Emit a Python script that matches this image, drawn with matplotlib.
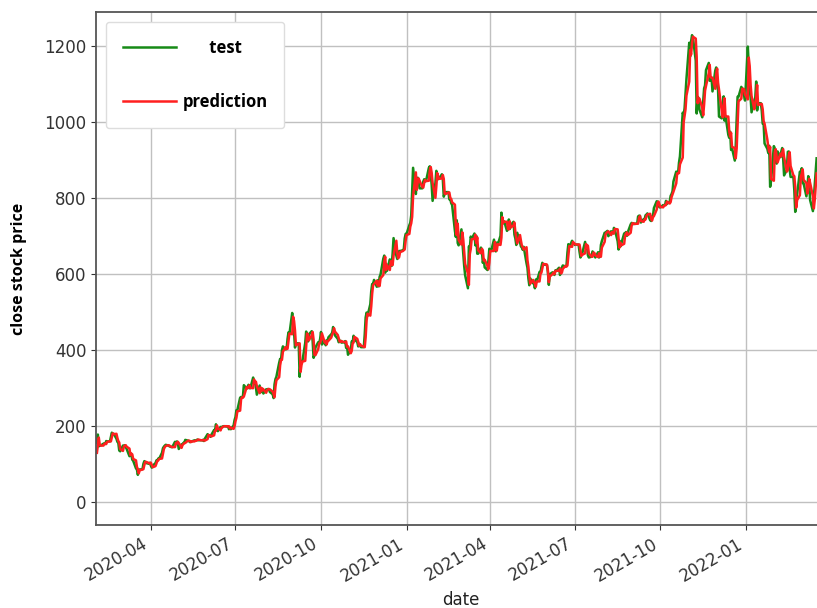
import numpy as np
import pandas as pd
import matplotlib
matplotlib.use('Agg')
import matplotlib.pyplot as plt
import matplotlib.dates as mdates

# daily closes, one row per trading week (Mon..Fri), holidays carry previous close
test_weeks = [
    [156, 178, 147, 149, 149], [154, 155, 153, 161, 160], [160, 172, 183, 179, 180],
    [167, 159, 156, 136, 134], [149, 149, 150, 145, 140], [121, 129, 126, 112, 109],
    [89, 86, 72, 86, 86], [87, 101, 108, 106, 103], [101, 104, 96, 91, 96],
    [103, 110, 110, 115, 115], [130, 142, 146, 149, 151], [149, 147, 146, 145, 145],
    [159, 153, 160, 156, 140], [152, 153, 156, 156, 164], [162, 161, 158, 160, 160],
    [163, 162, 163, 165, 163], [163, 163, 164, 161, 167], [179, 176, 176, 172, 177],
    [190, 188, 205, 194, 187], [198, 197, 199, 200, 200], [199, 200, 192, 197, 192],
    [202, 216, 224, 242, 242], [275, 277, 275, 278, 308], [299, 303, 309, 300, 300],
    [328, 313, 318, 302, 283], [307, 289, 300, 297, 286], [297, 297, 298, 297, 290],
    [284, 274, 310, 324, 330], [367, 377, 375, 400, 410], [402, 404, 430, 447, 442],
    [498, 475, 447, 407, 418], [418, 330, 366, 371, 372], [419, 449, 441, 423, 442],
    [450, 424, 380, 387, 407], [421, 419, 429, 448, 415], [425, 413, 425, 425, 434],
    [442, 446, 461, 448, 439], [430, 421, 422, 425, 420], [421, 424, 406, 410, 388],
    [400, 423, 420, 438, 429], [421, 410, 417, 411, 408], [408, 441, 486, 499, 490],
    [521, 555, 574, 574, 585], [567, 584, 568, 593, 599], [641, 649, 604, 627, 609],
    [639, 633, 622, 655, 695], [649, 640, 646, 661, 661], [663, 665, 694, 706, 706],
    [729, 735, 755, 816, 880], [811, 849, 854, 845, 826], [826, 844, 850, 844, 846],
    [880, 884, 865, 835, 793], [839, 872, 855, 850, 852], [863, 849, 804, 812, 816],
    [816, 797, 798, 787, 782], [714, 698, 742, 682, 676], [718, 686, 653, 621, 597],
    [563, 673, 668, 699, 693], [707, 676, 701, 654, 654], [670, 662, 630, 640, 618],
    [611, 635, 667, 661, 661], [691, 670, 660, 683, 677], [701, 762, 732, 738, 739],
    [714, 718, 744, 719, 729], [738, 704, 694, 677, 709], [684, 673, 670, 664, 672],
    [629, 617, 589, 571, 589], [576, 577, 563, 586, 580], [606, 604, 619, 630, 625],
    [625, 624, 605, 572, 600], [605, 603, 598, 610, 609], [617, 598, 605, 617, 623],
    [620, 623, 657, 679, 671], [688, 681, 680, 677, 678], [678, 659, 644, 652, 656],
    [685, 668, 677, 650, 644], [646, 660, 655, 649, 644], [658, 644, 646, 677, 687],
    [709, 709, 712, 714, 700], [713, 709, 707, 722, 717], [687, 665, 688, 673, 681],
    [707, 708, 711, 701, 711], [731, 735, 734, 732, 733], [733, 752, 754, 754, 736],
    [745, 744, 755, 757, 760], [742, 740, 752, 753, 774], [792, 791, 781, 776, 776],
    [782, 781, 782, 793, 785], [791, 806, 811, 818, 844], [870, 865, 866, 894, 910],
    [1025, 1018, 1037, 1077, 1114], [1209, 1173, 1213, 1229, 1222], [1162, 1023, 1067, 1064, 1033],
    [1013, 1055, 1089, 1097, 1137], [1156, 1109, 1117, 1117, 1081], [1136, 1144, 1095, 1084, 1015],
    [1010, 1051, 1068, 1004, 1017], [967, 959, 975, 927, 932], [899, 938, 1008, 1067, 1067],
    [1093, 1088, 1087, 1070, 1057], [1199, 1149, 1088, 1064, 1026], [1058, 1064, 1107, 1031, 1050],
    [1050, 1030, 996, 996, 944], [930, 919, 938, 830, 846], [937, 931, 905, 891, 923],
    [908, 923, 932, 904, 860], [875, 922, 923, 876, 856], [856, 821, 764, 800, 810],
    [870, 865, 879, 840, 839], [805, 825, 858, 838, 795], [766, 802, 840, 871, 905],
]

# model output for the same days
pred_weeks = [
    [130, 150, 170, 152, 149], [149, 153, 155, 153, 159], [160, 160, 170, 181, 179],
    [180, 169, 161, 157, 140], [135, 146, 149, 150, 146], [141, 124, 128, 126, 114],
    [110, 93, 87, 76, 84], [86, 87, 98, 106, 106], [103, 101, 104, 98, 92],
    [95, 102, 109, 110, 114], [115, 127, 140, 145, 148], [150, 149, 147, 146, 145],
    [145, 156, 154, 159, 156], [143, 150, 153, 155, 156], [162, 162, 161, 158, 160],
    [160, 162, 162, 163, 165], [163, 163, 163, 164, 162], [166, 177, 176, 176, 173],
    [176, 188, 188, 202, 195], [189, 196, 197, 199, 200], [200, 199, 200, 194, 196],
    [193, 200, 213, 222, 239], [241, 270, 276, 275, 278], [303, 300, 302, 308, 301],
    [300, 323, 315, 317, 305], [287, 302, 292, 299, 297], [288, 295, 297, 298, 297],
    [291, 285, 276, 304, 321], [329, 360, 374, 375, 396], [408, 403, 404, 425, 444],
    [442, 488, 477, 452, 413], [417, 418, 343, 361, 370], [372, 410, 444, 441, 426],
    [439, 448, 428, 388, 387], [403, 418, 419, 427, 444], [420, 424, 415, 423, 425],
    [433, 441, 446, 458, 449], [440, 432, 423, 422, 424], [421, 421, 423, 409, 410],
    [392, 398, 418, 420, 435], [430, 422, 412, 416, 412], [409, 408, 434, 478, 496],
    [491, 515, 549, 571, 574], [583, 570, 581, 569, 589], [598, 633, 646, 611, 624],
    [611, 634, 633, 624, 649], [688, 656, 642, 645, 658], [661, 663, 665, 688, 703],
    [706, 725, 734, 751, 805], [868, 822, 843, 852, 846], [829, 828, 841, 848, 845],
    [846, 873, 882, 867, 840], [801, 831, 866, 857, 851], [852, 861, 851, 812, 811],
    [815, 815, 801, 798, 789], [783, 727, 703, 733, 690], [678, 710, 690, 659, 627],
    [602, 572, 653, 666, 692], [693, 704, 682, 697, 663], [655, 667, 663, 636, 638],
    [622, 613, 630, 661, 661], [661, 685, 672, 662, 679], [677, 696, 750, 736, 738],
    [738, 719, 718, 739, 723], [728, 736, 711, 696, 681], [703, 688, 675, 671, 665],
    [671, 637, 620, 595, 575], [585, 578, 577, 567, 581], [581, 601, 604, 616, 627],
    [626, 625, 609, 579, 594], [600, 604, 600, 608, 609], [609, 615, 602, 604, 614],
    [622, 620, 623, 650, 674], [672, 685, 682, 680, 678], [678, 678, 663, 648, 651],
    [655, 679, 671, 675, 655], [646, 646, 657, 656, 650], [645, 655, 647, 646, 670],
    [685, 704, 709, 711, 713], [703, 711, 710, 707, 719], [718, 693, 670, 683, 676],
    [680, 701, 707, 710, 703], [709, 727, 734, 734, 732], [733, 733, 748, 753, 740],
    [738, 744, 744, 753, 757], [759, 746, 741, 750, 753], [770, 788, 791, 783, 777],
    [776, 781, 781, 782, 791], [786, 790, 803, 810, 817], [839, 865, 866, 866, 889],
    [907, 1000, 1018, 1034, 1070], [1107, 1190, 1178, 1208, 1225], [1220, 1172, 1050, 1063, 1062],
    [1038, 1018, 1047, 1083, 1095], [1129, 1151, 1118, 1117, 1117], [1088, 1126, 1141, 1104, 1086],
    [1029, 1013, 1044, 1063, 1015], [1015, 977, 962, 972, 935], [932, 905, 931, 996, 1055],
    [1062, 1088, 1088, 1087, 1073], [1060, 1170, 1148, 1098, 1069], [1034, 1052, 1062, 1098, 1045],
    [1048, 1048, 1034, 1003, 996], [954, 934, 922, 935, 851], [846, 920, 929, 909, 894],
    [917, 910, 920, 929, 908], [870, 874, 912, 921, 885], [860, 858, 830, 775, 795],
    [808, 857, 864, 876, 848], [840, 812, 822, 851, 840], [805, 773, 796, 832, 865],
]

dates = pd.bdate_range('2020-02-03', '2022-03-18')
test = np.array(test_weeks).ravel()
prediction = np.array(pred_weeks).ravel()
assert len(dates) == len(test) == len(prediction)

fig = plt.figure(figsize=(8.17, 6.08), dpi=100)
ax = fig.add_axes([96 / 817, 83 / 608, 729 / 817, 513 / 608])

ax.plot(dates, test, color='#178a17', lw=1.8, label='      test')
ax.plot(dates, prediction, color='#ff1f1f', lw=1.8, label='prediction')

ax.set_xlim(pd.Timestamp('2020-02-02'), pd.Timestamp('2022-03-27'))
ax.set_ylim(-60, 1290)
ax.set_yticks([0, 200, 400, 600, 800, 1000, 1200])
ax.xaxis.set_major_locator(mdates.MonthLocator(bymonth=[1, 4, 7, 10]))
ax.xaxis.set_major_formatter(mdates.DateFormatter('%Y-%m'))
plt.setp(ax.get_xticklabels(), rotation=30, ha='right')
ax.tick_params(labelsize=12, colors='#333333')

ax.grid(True, color='#c0c0c0', lw=1)
ax.set_axisbelow(True)
for s in ax.spines.values():
    s.set_color('#555555')
    s.set_linewidth(1.3)

ax.set_xlabel('date', fontsize=12, color='#222222')
ax.set_ylabel('close stock price', fontsize=11.5, fontweight='bold',
              family=['Open Sans', 'DejaVu Sans'], labelpad=12)

leg = ax.legend(loc='upper left',
                prop={'family': ['Open Sans', 'DejaVu Sans'], 'weight': 'bold', 'size': 12},
                handlelength=3.2, handletextpad=0.4, labelspacing=2.2, borderpad=1.0,
                borderaxespad=0.6, framealpha=1, edgecolor='#dddddd')

fig.savefig('out.png', dpi=100)
